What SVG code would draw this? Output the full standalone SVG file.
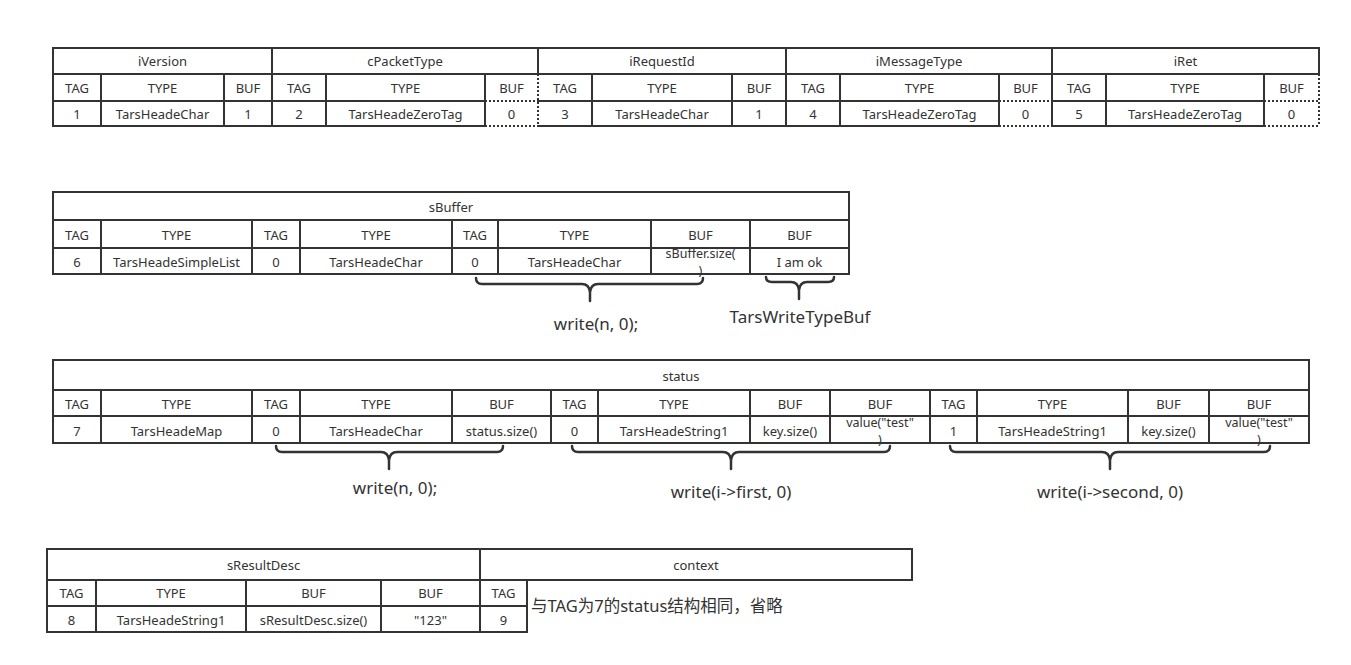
<svg xmlns="http://www.w3.org/2000/svg" width="1351" height="665" viewBox="0 0 1351 665">
<style>
.c{fill:#fff;stroke:#333;stroke-width:2}
.d{fill:none;stroke:#333;stroke-width:2;stroke-dasharray:2 2}
.t{font-family:"Noto Sans","Noto Sans CJK SC",sans-serif;font-size:13px;fill:#333;text-anchor:middle;dominant-baseline:central}
.w{font-family:"Noto Sans","Noto Sans CJK SC",sans-serif;font-size:12.5px;fill:#333;text-anchor:middle}
.l{font-family:"Noto Sans","Noto Sans CJK SC",sans-serif;font-size:17px;fill:#333;text-anchor:middle}
.b{fill:none;stroke:#333;stroke-width:2.5;stroke-linecap:round;stroke-linejoin:round}
</style>
<rect width="1351" height="665" fill="#fff"/>

<!-- Top row -->
<g id="iVersion">
<rect class="c" x="53" y="48" width="219" height="26"/><text class="t" x="162.5" y="61">iVersion</text>
<rect class="c" x="53" y="74" width="48" height="27"/><text class="t" x="77" y="88">TAG</text>
<rect class="c" x="101" y="74" width="123" height="27"/><text class="t" x="162.5" y="88">TYPE</text>
<rect class="c" x="224" y="74" width="48" height="27"/><text class="t" x="248" y="88">BUF</text>
<rect class="c" x="53" y="101" width="48" height="25"/><text class="t" x="77" y="114">1</text>
<rect class="c" x="101" y="101" width="123" height="25"/><text class="t" x="162.5" y="114">TarsHeadeChar</text>
<rect class="c" x="224" y="101" width="48" height="25"/><text class="t" x="248" y="114">1</text>
</g>
<g id="cPacketType">
<rect class="c" x="272" y="48" width="266" height="26"/><text class="t" x="405" y="61">cPacketType</text>
<rect class="c" x="272" y="74" width="54" height="27"/><text class="t" x="299" y="88">TAG</text>
<rect class="c" x="326" y="74" width="159" height="27"/><text class="t" x="405.5" y="88">TYPE</text>
<rect class="c" x="272" y="101" width="54" height="25"/><text class="t" x="299" y="114">2</text>
<rect class="c" x="326" y="101" width="159" height="25"/><text class="t" x="405.5" y="114">TarsHeadeZeroTag</text>
<path class="d" d="M485,74 V126 M485,101 H538 M485,126 H538 M538,74 V126"/>
<text class="t" x="511.5" y="88">BUF</text><text class="t" x="511.5" y="114">0</text>
</g>
<g id="iRequestId">
<rect class="c" x="538" y="48" width="248" height="26"/><text class="t" x="662" y="61">iRequestId</text>
<path class="c" d="M538,101 H786 M538,126 H786 M592,74 V126 M732,74 V126 M786,74 V126"/>
<text class="t" x="565" y="88">TAG</text><text class="t" x="662" y="88">TYPE</text><text class="t" x="759" y="88">BUF</text>
<text class="t" x="565" y="114">3</text><text class="t" x="662" y="114">TarsHeadeChar</text><text class="t" x="759" y="114">1</text>
</g>
<g id="iMessageType">
<rect class="c" x="786" y="48" width="266" height="26"/><text class="t" x="919" y="61">iMessageType</text>
<rect class="c" x="786" y="74" width="54" height="27"/><text class="t" x="813" y="88">TAG</text>
<rect class="c" x="840" y="74" width="159" height="27"/><text class="t" x="919.5" y="88">TYPE</text>
<rect class="c" x="786" y="101" width="54" height="25"/><text class="t" x="813" y="114">4</text>
<rect class="c" x="840" y="101" width="159" height="25"/><text class="t" x="919.5" y="114">TarsHeadeZeroTag</text>
<path class="d" d="M999,74 V126 M999,101 H1052 M999,126 H1052"/>
<path class="c" d="M1052,74 V126"/>
<text class="t" x="1025.5" y="88">BUF</text><text class="t" x="1025.5" y="114">0</text>
</g>
<g id="iRet">
<rect class="c" x="1052" y="48" width="267" height="26"/><text class="t" x="1185.5" y="61">iRet</text>
<rect class="c" x="1052" y="74" width="54" height="27"/><text class="t" x="1079" y="88">TAG</text>
<rect class="c" x="1106" y="74" width="158" height="27"/><text class="t" x="1185" y="88">TYPE</text>
<rect class="c" x="1052" y="101" width="54" height="25"/><text class="t" x="1079" y="114">5</text>
<rect class="c" x="1106" y="101" width="158" height="25"/><text class="t" x="1185" y="114">TarsHeadeZeroTag</text>
<path class="d" d="M1264,74 V126 M1264,101 H1319 M1264,126 H1319 M1319,74 V126"/>
<text class="t" x="1291.5" y="88">BUF</text><text class="t" x="1291.5" y="114">0</text>
</g>

<!-- sBuffer -->
<g id="sBuffer">
<rect class="c" x="53" y="192" width="796" height="82"/>
<path class="c" d="M53,220 H849 M53,248 H849 M101,220 V274 M252,220 V274 M300,220 V274 M452,220 V274 M498,220 V274 M651,220 V274 M750,220 V274"/>
<text class="t" x="451" y="207">sBuffer</text>
<text class="t" x="77" y="235">TAG</text><text class="t" x="176.5" y="235">TYPE</text><text class="t" x="276" y="235">TAG</text><text class="t" x="376" y="235">TYPE</text><text class="t" x="475" y="235">TAG</text><text class="t" x="574.5" y="235">TYPE</text><text class="t" x="700.5" y="235">BUF</text><text class="t" x="799.5" y="235">BUF</text>
<text class="t" x="77" y="262">6</text><text class="t" x="176.5" y="262">TarsHeadeSimpleList</text><text class="t" x="276" y="262">0</text><text class="t" x="376" y="262">TarsHeadeChar</text><text class="t" x="475" y="262">0</text><text class="t" x="574.5" y="262">TarsHeadeChar</text>
<text class="w" x="700.5" y="258">sBuffer.size(</text><text class="w" x="700.5" y="275">)</text>
<text class="t" x="799.5" y="262">I am ok</text>
</g>

<!-- status -->
<g id="status">
<rect class="c" x="53" y="360" width="1256" height="83"/>
<path class="c" d="M53,390 H1309 M53,416 H1309 M101,390 V443 M252,390 V443 M300,390 V443 M452,390 V443 M551,390 V443 M598,390 V443 M750,390 V443 M830,390 V443 M930,390 V443 M977,390 V443 M1128,390 V443 M1209,390 V443"/>
<text class="t" x="681" y="376">status</text>
<text class="t" x="77" y="404">TAG</text><text class="t" x="176.5" y="404">TYPE</text><text class="t" x="276" y="404">TAG</text><text class="t" x="376" y="404">TYPE</text><text class="t" x="501.5" y="404">BUF</text><text class="t" x="574.5" y="404">TAG</text><text class="t" x="674" y="404">TYPE</text><text class="t" x="790" y="404">BUF</text><text class="t" x="880" y="404">BUF</text><text class="t" x="953.5" y="404">TAG</text><text class="t" x="1052.5" y="404">TYPE</text><text class="t" x="1168.5" y="404">BUF</text><text class="t" x="1259" y="404">BUF</text>
<text class="t" x="77" y="431">7</text><text class="t" x="176.5" y="431">TarsHeadeMap</text><text class="t" x="276" y="431">0</text><text class="t" x="376" y="431">TarsHeadeChar</text><text class="t" x="501.5" y="431">status.size()</text><text class="t" x="574.5" y="431">0</text><text class="t" x="674" y="431">TarsHeadeString1</text><text class="t" x="790" y="431">key.size()</text>
<text class="w" x="880" y="427">value("test"</text><text class="w" x="880" y="444">)</text>
<text class="t" x="953.5" y="431">1</text><text class="t" x="1052.5" y="431">TarsHeadeString1</text><text class="t" x="1168.5" y="431">key.size()</text>
<text class="w" x="1259" y="427">value("test"</text><text class="w" x="1259" y="444">)</text>
</g>

<!-- sResultDesc -->
<g id="sResultDesc">
<rect class="c" x="47" y="549" width="433" height="83"/>
<path class="c" d="M47,580 H480 M47,606 H480 M96,580 V632 M246,580 V632 M381,580 V632"/>
<text class="t" x="263.5" y="565">sResultDesc</text>
<text class="t" x="71.5" y="593">TAG</text><text class="t" x="171" y="593">TYPE</text><text class="t" x="313.5" y="593">BUF</text><text class="t" x="430.5" y="593">BUF</text>
<text class="t" x="71.5" y="620">8</text><text class="t" x="171" y="620">TarsHeadeString1</text><text class="t" x="313.5" y="620">sResultDesc.size()</text><text class="t" x="430.5" y="620">"123"</text>
</g>

<!-- context -->
<g id="context">
<rect class="c" x="480" y="549" width="432" height="31"/>
<text class="t" x="696" y="565">context</text>
<rect class="c" x="480" y="580" width="47" height="26"/><text class="t" x="503.5" y="593">TAG</text>
<rect class="c" x="480" y="606" width="47" height="26"/><text class="t" x="503.5" y="620">9</text>
<text style="font-family:'Noto Sans','Noto Sans CJK SC',sans-serif;font-size:16.5px;fill:#333" x="531" y="612">与TAG为7的status结构相同，省略</text>
</g>

<!-- connectors: braces -->
<g id="connectors">
<path class="b" d="M476,278 Q476,284 482,284 L582,284 Q589,284 590,292 L590,301 M590,292 Q591,284 598,284 L697,284 Q703,284 703,278"/>
<path class="b" d="M766,277 Q766,282 772,282 L791,282 Q798,282 799,290 L799,299 M799,290 Q800,282 807,282 L828,282 Q834,282 834,277"/>
<path class="b" d="M276,446 Q276,452 282,452 L381,452 Q388,452 389,460 L389,469 M389,460 Q390,452 397,452 L497,452 Q503,452 503,446"/>
<path class="b" d="M572,446 Q572,452 578,452 L723,452 Q730,452 731,460 L731,469 M731,460 Q732,452 739,452 L884,452 Q890,452 890,446"/>
<path class="b" d="M950,446 Q950,452 956,452 L1102,452 Q1109,452 1110,460 L1110,469 M1110,460 Q1111,452 1118,452 L1264,452 Q1270,452 1270,446"/>
</g>
<g id="labels">
<text class="l" x="596" y="330">write(n, 0);</text>
<text class="l" x="800" y="323">TarsWriteTypeBuf</text>
<text class="l" x="395" y="494">write(n, 0);</text>
<text class="l" x="731" y="498">write(i-&gt;first, 0)</text>
<text class="l" x="1110" y="498">write(i-&gt;second, 0)</text>
</g>
</svg>
